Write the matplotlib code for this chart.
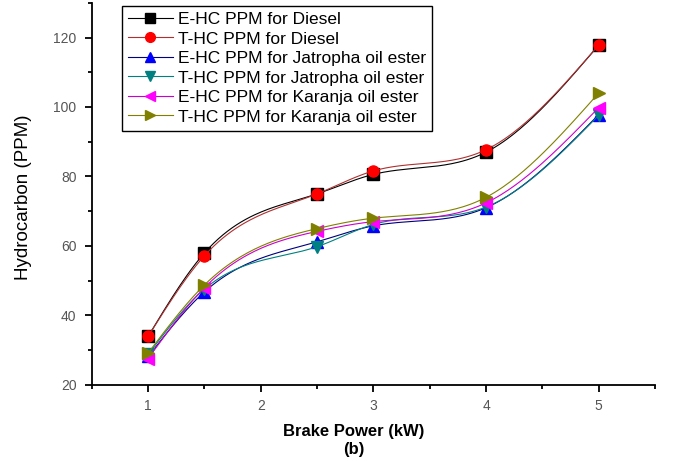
import numpy as np
import matplotlib.pyplot as plt
from matplotlib.ticker import MultipleLocator

plt.rcParams['font.family'] = ['Liberation Sans', 'DejaVu Sans']

# Brake power (kW)
bp = [1, 1.5, 2.5, 3, 4, 5]

ehc_diesel = [34, 58, 75, 80.6, 87, 117.8]
thc_diesel = [34, 57.2, 75, 81.6, 87.7, 117.8]
ehc_jatropha = [28.2, 46.8, 61.2, 65.8, 71, 97.8]
thc_jatropha = [28.8, 47.6, 59.8, 66.2, 71.2, 97.6]
ehc_karanja = [27.6, 48, 64.2, 67, 72.4, 99.8]
thc_karanja = [29.2, 48.8, 65, 68, 74, 104]

labels = ['E-HC PPM for Diesel', 'T-HC PPM for Diesel',
          'E-HC PPM for Jatropha oil ester', 'T-HC PPM for Jatropha oil ester',
          'E-HC PPM for Karanja oil ester', 'T-HC PPM for Karanja oil ester']


def spline(x, y, n=200):
    # natural cubic spline, just for the smooth look of the curves
    x = np.asarray(x, float)
    y = np.asarray(y, float)
    k = len(x)
    h = np.diff(x)
    A = np.zeros((k, k))
    b = np.zeros(k)
    A[0, 0] = A[-1, -1] = 1
    for i in range(1, k - 1):
        A[i, i - 1] = h[i - 1]
        A[i, i] = 2 * (h[i - 1] + h[i])
        A[i, i + 1] = h[i]
        b[i] = 3 * ((y[i + 1] - y[i]) / h[i] - (y[i] - y[i - 1]) / h[i - 1])
    c = np.linalg.solve(A, b)
    xs = np.linspace(x[0], x[-1], n)
    idx = np.clip(np.searchsorted(x, xs) - 1, 0, k - 2)
    dx = xs - x[idx]
    bb = (y[idx + 1] - y[idx]) / h[idx] - h[idx] * (c[idx + 1] + 2 * c[idx]) / 3
    dd = (c[idx + 1] - c[idx]) / (3 * h[idx])
    ys = y[idx] + bb * dx + c[idx] * dx ** 2 + dd * dx ** 3
    return xs, ys


series = [ehc_diesel, thc_diesel, ehc_jatropha, thc_jatropha, ehc_karanja, thc_karanja]
line_colors = ['black', '#b03030', '#000080', '#008080', '#cc00cc', '#808000']
marker_colors = ['black', 'red', 'blue', '#008080', '#ff00ff', '#808000']
markers = ['s', 'o', '^', 'v', '<', '>']

fig = plt.figure(figsize=(6.96, 4.61), dpi=100)
ax = fig.add_axes([0.132, 0.165, 0.809, 0.829])

for vals, lc, mc, m, lab in zip(series, line_colors, marker_colors, markers, labels):
    xs, ys = spline(bp, vals)
    ax.plot(xs, ys, color=lc, lw=0.8)
    ax.plot(bp, vals, linestyle='none', marker=m, color=mc, ms=8)
    ax.plot([], [], color=lc, lw=0.8, marker=m, mfc=mc, mec=mc, ms=7, label=lab)

ax.set_xlim(0.5, 5.5)
ax.set_ylim(20, 130)
ax.xaxis.set_major_locator(MultipleLocator(1))
ax.xaxis.set_minor_locator(MultipleLocator(0.5))
ax.yaxis.set_major_locator(MultipleLocator(20))
ax.yaxis.set_minor_locator(MultipleLocator(10))
ax.tick_params(which='both', direction='out', labelsize=10, labelcolor='#555555', width=1.3)
ax.tick_params(which='major', length=5)
ax.tick_params(which='minor', length=3)
ax.tick_params(axis='y', pad=6)
ax.tick_params(axis='x', pad=5)
ax.spines['top'].set_visible(False)
ax.spines['right'].set_visible(False)
ax.spines['left'].set_linewidth(1.3)
ax.spines['bottom'].set_linewidth(1.3)

ax.set_ylabel('Hydrocarbon (PPM)', fontsize=13.5)
ax.yaxis.set_label_coords(-0.106, 0.49)
ax.set_xlabel('Brake Power (kW)\n(b)', fontsize=12, fontweight='bold', linespacing=1.25)
ax.xaxis.set_label_coords(0.465, -0.102)

ax.legend(loc='upper left', bbox_to_anchor=(0.053, 0.992), fontsize=12.5, frameon=True,
          fancybox=False, edgecolor='black', framealpha=1, handlelength=2.6,
          labelspacing=0.25, borderpad=0.35, handletextpad=0.3, borderaxespad=0)

plt.savefig('out.png', dpi=100)
